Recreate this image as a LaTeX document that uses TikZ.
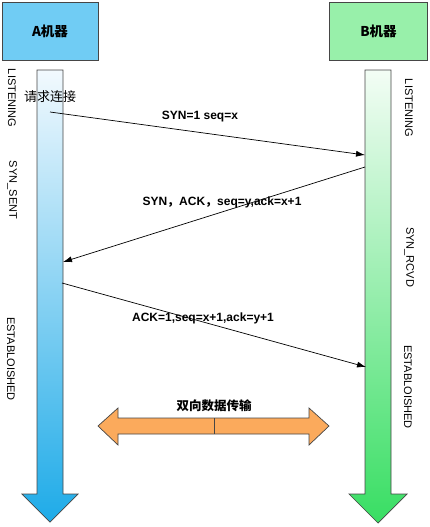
\documentclass[tikz,border=0pt]{standalone}
\usepackage{fontspec}
\setmainfont{Liberation Sans}
\newfontfamily\cjk{Noto Sans CJK SC}
\usetikzlibrary{arrows.meta}
\definecolor{boxA}{RGB}{112,204,244}
\definecolor{boxB}{RGB}{152,240,170}
\definecolor{blueTop}{RGB}{242,249,254}
\definecolor{blueBot}{RGB}{30,171,232}
\definecolor{greenTop}{RGB}{243,253,245}
\definecolor{greenBot}{RGB}{56,222,99}
\definecolor{orangeF}{RGB}{251,170,92}
\definecolor{edgeC}{RGB}{70,70,70}
\tikzset{
  hostbox/.style={draw=edgeC, line width=0.8pt, minimum width=96pt, minimum height=58pt, inner sep=0pt, font=\cjk\bfseries\fontsize{13.5}{15}\selectfont},
  state/.style={rotate=-90, font=\fontsize{11}{13}\selectfont, inner sep=0pt},
  msg/.style={font=\bfseries\fontsize{12}{14}\selectfont, inner sep=0pt},
  conn/.style={line width=0.7pt, -{Latex[length=9pt,width=6pt]}},
  lifeline/.style={draw=edgeC, line width=0.7pt}
}
\begin{document}
\begin{tikzpicture}[x=1pt,y=-1pt]
\useasboundingbox (0,0) rectangle (430,527);
% host boxes
\node[hostbox, fill=boxA] (A) at (50,31) {A机器};
\node[hostbox, fill=boxB, minimum width=98pt] (B) at (378.5,31) {B机器};
% life lines (thick arrows)
\path[lifeline, top color=blueTop, bottom color=blueBot]
  (37,70) -- (63,70) -- (63,494) -- (78,494) -- (50,522) -- (22,494) -- (37,494) -- cycle;
\path[lifeline, top color=greenTop, bottom color=greenBot]
  (365,70) -- (391,70) -- (391,494) -- (407,494) -- (378,523) -- (349,494) -- (365,494) -- cycle;
% state labels
\node[state] (l1) at (12,98) {LISTENING};
\node[state] (l2) at (12,190) {SYN\_SENT};
\node[state] (l3) at (11,359) {ESTABLOISHED};
\node[state] (r1) at (409,108) {LISTENING};
\node[state] (r2) at (409,257) {SYN\_RCVD};
\node[state] (r3) at (408,387) {ESTABLOISHED};
% endpoints
\coordinate (a1) at (50,112);
\coordinate (b1) at (365,155);
\coordinate (b2) at (365,167);
\coordinate (a2) at (63,262);
\coordinate (a3) at (62,283);
\coordinate (b3) at (366,367);
\draw[conn] (a1) -- (b1);
\draw[conn] (b2) -- (a2);
\draw[conn] (a3) -- (b3);
% labels
\node[font=\cjk\fontsize{13}{15}\selectfont, inner sep=0pt] (req) at (50,97) {请求连接};
\node[msg] (m1) at (200,117) {SYN=1 seq=x};
\node[msg] (m2) at (222,202) {SYN{\cjk ，}ACK{\cjk ，}seq=y,ack=x+1};
\node[msg] (m3) at (203,318) {ACK=1,seq=x+1,ack=y+1};
% bidirectional data arrow
\path[draw=edgeC, line width=0.7pt, fill=orangeF]
  (98,426) -- (118,408) -- (118,418) -- (309,418) -- (309,408) -- (329,426)
  -- (309,445) -- (309,434) -- (118,434) -- (118,445) -- cycle;
\coordinate (dt) at (214,418);
\coordinate (db) at (214,434);
\draw[edgeC, line width=0.8pt] (dt) -- (db);
\node[font=\cjk\bfseries\fontsize{12.5}{14}\selectfont, inner sep=0pt] (data) at (214,406) {双向数据传输};
\end{tikzpicture}
\end{document}
